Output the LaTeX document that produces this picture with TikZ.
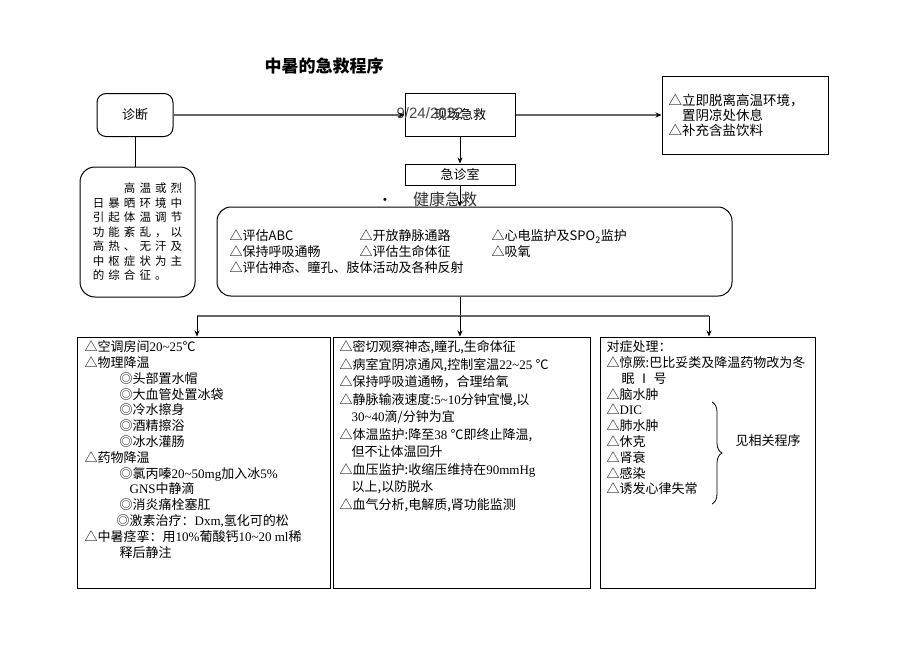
\documentclass[tikz,border=0pt]{standalone}
\usepackage{fontspec}
\setmainfont{Liberation Serif}
\newfontfamily\cjk{Noto Sans CJK SC}
\newfontfamily\cjkwide{Noto Sans CJK SC}[LetterSpace=35]
\newfontfamily\arialfont{Liberation Sans}
\newfontfamily\tmfont{Liberation Serif}
\usetikzlibrary{arrows.meta}
\usetikzlibrary{positioning}
\usetikzlibrary{decorations.pathreplacing}
\newcommand{\tm}[1]{{\tmfont #1}}
\newcommand{\tld}{\textasciitilde}

\begin{document}
\begin{tikzpicture}[x=1pt, y=-1pt,
  every node/.style={font=\cjk\fontsize{13}{15.8}\selectfont},
  box/.style={draw, line width=1pt, minimum width=110, minimum height=43, inner sep=0pt},
  rbox/.style={box, rounded corners=9},
  panel/.style={draw, line width=1pt, minimum height=251, inner sep=0pt},
  list/.style={align=left, inner sep=0pt},
  link/.style={line width=0.8pt, -{Stealth[length=6pt, width=5pt]}},
  flow/.style={gray!80!black, line width=1.3pt, -{Stealth[length=6pt, width=5pt, black]}},
  feed/.style={gray!80!black, line width=1.4pt}]
\useasboundingbox (0,0) rectangle (920,651);

\node[font=\cjk\bfseries\fontsize{17}{17}\selectfont] (title) at (324,66) {中暑的急救程序};

% top row
\node[rbox, minimum width=76] (diag) at (135,115) {诊断};
\node[rbox, rounded corners=15, minimum width=115, minimum height=130, align=left,
  font=\cjkwide\fontsize{11.5}{14.5}\selectfont] (defn) at (137.5,232)
  {　　高温或烈\\日暴晒环境中\\引起体温调节\\功能紊乱，以\\高热、无汗及\\中枢症状为主\\的综合征。};
\node[box] (scene) at (460,115) {现场急救};
\node[font=\arialfont\fontsize{15}{15}\selectfont, text=black!72] (date) at (430,113) {9/24/2022};
\node[box, minimum width=166, minimum height=78] (leave) at (745,115) {};
\node[list, anchor=west, font=\cjk\fontsize{13.5}{15}\selectfont] (leavetext) [right=7pt of leave.west]
  {△立即脱离高温环境，\\　置阴凉处休息\\△补充含盐饮料};

\draw (diag.south) -- (diag.south |- defn.north);
\draw[flow] (diag) -- (scene);
\draw[flow] (scene) -- (leave);

% emergency room
\node[box, minimum height=21] (er) [below=26.5pt of scene] {急诊室};
\node[font=\arialfont\fontsize{11}{11}\selectfont] (bullet) at (385,201) {•};
\node[font=\cjk\fontsize{16}{16}\selectfont, text=black!80] (rescue) at (445,199) {健康急救};
\draw[link] (scene) -- (er);

\node[rbox, rounded corners=14, minimum width=515, minimum height=89] (eval) at (474.5,251.5) {};
\node[list, anchor=north west] (evaltext) [below right=23pt and 13pt of eval.north west]
  {\makebox[130pt][l]{△评估ABC}\makebox[132pt][l]{△开放静脉通路}△心电监护及SPO\textsubscript{2}监护\\
   \makebox[130pt][l]{△保持呼吸通畅}\makebox[132pt][l]{△评估生命体征}△吸氧\\
   △评估神态、瞳孔、肢体活动及各种反射};
\draw[link] (er) -- (er |- eval.north);

% three panels
\node[panel, minimum width=253] (cool) at (203.5,462.5) {};
\node[panel, minimum width=257] (care) at (461.5,462.5) {};
\node[panel, minimum width=215] (sympt) at (707.5,462.5) {};

\coordinate (split) at (460,316);
\coordinate (d1) at (197,316);
\coordinate (d3) at (709,316);
\draw[line width=0.8pt] (split |- eval.south) -- (split);
\draw[feed] (d1) -- (d3);
\foreach \d in {d1,split,d3} \draw[link] (\d) -- (\d |- cool.north);

\node[list, anchor=north west] (cooltext) [below right=4pt and 8pt of cool.north west]
  {△空调房间\tm{20\tld25}℃\\
   △物理降温\\
   \hspace*{35pt}◎头部置水帽\\
   \hspace*{35pt}◎大血管处置冰袋\\
   \hspace*{35pt}◎冷水擦身\\
   \hspace*{35pt}◎酒精擦浴\\
   \hspace*{35pt}◎冰水灌肠\\
   △药物降温\\
   \hspace*{35pt}◎氯丙嗪\tm{20\tld50mg}加入冰\tm{5\%}\\
   \hspace*{45pt}\tm{GNS}中静滴\\
   \hspace*{35pt}◎消炎痛栓塞肛\\
   \hspace*{32pt}◎激素治疗：\tm{Dxm,}氢化可的松\\
   △中暑痉挛：用\tm{10\%}葡酸钙\tm{10\tld20 ml}稀\\
   \hspace*{35pt}释后静注};

\node[list, anchor=north west, font=\cjk\fontsize{13}{17.5}\selectfont] (caretext) [below right=4pt and 7pt of care.north west]
  {△密切观察神态,瞳孔,生命体征\\
   △病室宜阴凉通风,控制室温\tm{22\tld25 }℃\\
   △保持呼吸道通畅，合理给氧\\
   △静脉输液速度:\tm{5\tld10}分钟宜慢,以\\
   \hspace*{12pt}\tm{30\tld40}滴/分钟为宜\\
   △体温监护:降至\tm{38 }℃即终止降温,\\
   \hspace*{12pt}但不让体温回升\\
   △血压监护:收缩压维持在\tm{90mmHg}\\
   \hspace*{12pt}以上,以防脱水\\
   △血气分析,电解质,肾功能监测};

\node[list, anchor=north west] (symptext) [below right=4pt and 7pt of sympt.north west]
  {对症处理：\\
   △惊厥:巴比妥类及降温药物改为冬\\
   \hspace*{15pt}眠 Ⅰ 号\\
   △脑水肿\\
   △\tm{DIC}\\
   △肺水肿\\
   △休克\\
   △肾衰\\
   △感染\\
   △诱发心律失常};
\draw[decorate, decoration={brace, amplitude=10pt}, line width=0.8pt] (712,402) -- (712,504);
\node (see) at (768,441) {见相关程序};

\end{tikzpicture}
\end{document}
